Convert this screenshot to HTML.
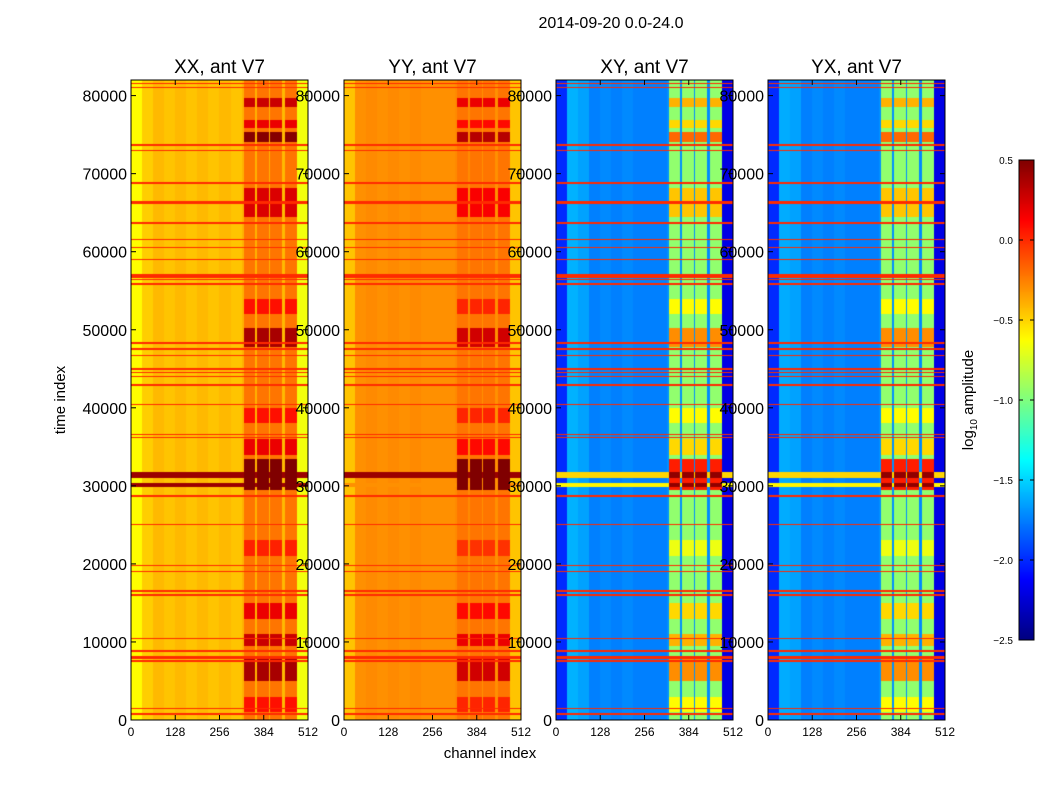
<!DOCTYPE html>
<html><head><meta charset="utf-8">
<style>
html,body{margin:0;padding:0;background:#fff;}
#wrap{position:relative;width:1050px;height:800px;overflow:hidden;font-family:"Liberation Sans",sans-serif;}
canvas,svg{position:absolute;left:0;top:0;}
</style></head>
<body>
<div id="wrap">
<canvas id="cv" width="1050" height="800"></canvas>
<svg id="sv" width="1050" height="800"></svg>
</div>
<script>
// ---- data ----
const panelTitles = ["XX, ant V7","YY, ant V7","XY, ant V7","YX, ant V7"];
const yTicks = [0,10000,20000,30000,40000,50000,60000,70000,80000];
const xTicks = [0,128,256,384,512];
const cbTicks = [0.5,0.0,-0.5,-1.0,-1.5,-2.0,-2.5];
// channel profile: 16 bins of 32 channels, log10 amplitude
const chanXX = [-0.62,-0.48,-0.42,-0.45,-0.42,-0.45,-0.42,-0.45,-0.42,-0.45,-0.4,-0.4,-0.4,-0.42,-0.5,-0.66];
const chanYY = [-0.45,-0.3,-0.28,-0.3,-0.28,-0.3,-0.28,-0.3,-0.3,-0.3,-0.28,-0.28,-0.3,-0.3,-0.35,-0.45];
const chanXY = [-2.0,-1.6,-1.65,-1.75,-1.72,-1.75,-1.72,-1.75,-1.75,-1.75,-1.7,-1.7,-1.7,-1.72,-1.85,-2.2];
const chanYX = [-2.0,-1.62,-1.65,-1.75,-1.72,-1.75,-1.72,-1.75,-1.75,-1.75,-1.7,-1.7,-1.7,-1.72,-1.85,-2.2];
// RFI columns (channels)
const rfiStart = [327,364,402,446];
const rfiEnd = [360,398,438,480];
const rfiBase = [-0.22,-0.22,-0.95,-0.95];
const rfiGain = [1.0,0.8,1.1,1.1];
// RFI bursts in time: start, end, strength
const burstT0 = [78500,75900,74000,64400,52000,47800,38000,34000,29500,21000,13000,9500,5000,1000];
const burstT1 = [79700,76900,75300,68100,54000,50200,40000,36000,33500,23000,15000,11000,8000,3000];
const burstAmp = [0.5,0.4,0.7,0.45,0.3,0.6,0.3,0.4,0.9,0.25,0.4,0.5,0.6,0.3];
// flagged rows (time) and their thickness (time units)
const flagT = [81600,81000,73700,73000,68800,66300,63700,61600,60500,59000,56900,56400,55900,48300,47500,46700,45000,44500,44000,42900,40400,36600,36200,28700,25000,19800,19000,16500,16000,10400,8800,8000,7600,1500,800];
const flagW = [150,150,200,150,150,500,300,150,150,150,600,150,300,200,200,200,200,200,200,200,200,200,200,200,120,150,150,250,200,150,300,300,300,200,200];
// broad band around 30000
const bandT0 = [31000,29900];
const bandT1 = [31800,30400];
const bandXX = [0.42,0.42];
const bandYY = [0.42,-0.3];
const bandXY = [-0.5,-0.6];
const bandYX = [-0.5,-0.6];

// ---- layout ----
const panelX = [131,344,556,768];
const PW = 177, PT = 80, PH = 640;
const TMAX = 82000, CMAX = 512, VMIN = -2.5, VMAX = 0.5;
const yPos = t => PT + PH - t / TMAX * PH;
const xPos = (p, c) => panelX[p] + c / CMAX * PW;

function jet(v){
  let x = (v - VMIN) / (VMAX - VMIN); x = Math.max(0, Math.min(1, x));
  const f = (a) => Math.max(0, Math.min(1, a));
  const r = f(1.5 - Math.abs(4 * x - 3));
  const g = f(1.5 - Math.abs(4 * x - 2));
  const b = f(1.5 - Math.abs(4 * x - 1));
  return [r * 255, g * 255, b * 255];
}
const chans = [chanXX, chanYY, chanXY, chanYX];
const bands = [bandXX, bandYY, bandXY, bandYX];
function value(p, ch, t){
  let v = chans[p][Math.min(15, Math.floor(ch / 32))];
  let inRfi = false;
  for (let k = 0; k < rfiStart.length; k++) if (ch >= rfiStart[k] && ch <= rfiEnd[k]) inRfi = true;
  if (inRfi) {
    v = rfiBase[p];
    for (let k = 0; k < burstT0.length; k++)
      if (t >= burstT0[k] && t <= burstT1[k]) v += burstAmp[k] * rfiGain[p];
  }
  for (let k = 0; k < bandT0.length; k++)
    if (t >= bandT0[k] && t <= bandT1[k]) v = inRfi ? Math.max(v, 0.45) : bands[p][k];
  for (let k = 0; k < flagT.length; k++)
    if (Math.abs(t - flagT[k]) <= flagW[k] / 2) v = 0.0;
  return v;
}
const cv = document.getElementById('cv');
const ctx = cv.getContext('2d');
ctx.fillStyle = '#fff'; ctx.fillRect(0, 0, 1050, 800);
for (let p = 0; p < 4; p++) {
  const img = ctx.createImageData(PW, PH);
  for (let px = 0; px < PW; px++) {
    const ch = (px + 0.5) / PW * CMAX;
    for (let py = 0; py < PH; py++) {
      const t = (PH - py - 0.5) / PH * TMAX;
      const c = jet(value(p, ch, t));
      const i = (py * PW + px) * 4;
      img.data[i] = c[0]; img.data[i+1] = c[1]; img.data[i+2] = c[2]; img.data[i+3] = 255;
    }
  }
  ctx.putImageData(img, panelX[p], PT);
}
// colorbar
const CBX = 1019, CBW = 15, CBT = 160, CBH = 480;
for (let y = 0; y < CBH; y++) {
  const v = VMAX - (y + 0.5) / CBH * (VMAX - VMIN);
  const c = jet(v);
  ctx.fillStyle = `rgb(${c[0]|0},${c[1]|0},${c[2]|0})`;
  ctx.fillRect(CBX, CBT + y, CBW, 1);
}

// ---- svg overlay ----
const NS = 'http://www.w3.org/2000/svg';
const sv = document.getElementById('sv');
function mk(tag, attrs, txt){
  const e = document.createElementNS(NS, tag);
  for (const k in attrs) e.setAttribute(k, attrs[k]);
  if (txt !== undefined) e.textContent = txt;
  sv.appendChild(e); return e;
}
let e;
e = mk('text', {x:611, y:28, 'font-size':16, 'text-anchor':'middle', fill:'#000'}, '2014-09-20 0.0-24.0');


for (let p = 0; p < 4; p++) {
  const x0 = panelX[p];
  e = mk('rect', {x:x0, y:PT, width:PW, height:PH, fill:'none', stroke:'#000', 'stroke-width':1});
  
  
  e = mk('text', {x:x0 + PW/2, y:73, 'font-size':19, 'text-anchor':'middle', fill:'#000'}, panelTitles[p]);
  
  
  yTicks.forEach(t => {
    const y = yPos(t);
    mk('line', {x1:x0, x2:x0+5, y1:y, y2:y, stroke:'#000'});
    mk('line', {x1:x0+PW-5, x2:x0+PW, y1:y, y2:y, stroke:'#000'});
    e = mk('text', {x:x0 - 4, y:y + 6, 'font-size':16, 'text-anchor':'end', fill:'#000'}, String(t));
    
    
  });
  xTicks.forEach(c => {
    const x = xPos(p, c);
    mk('line', {x1:x, x2:x, y1:PT+PH, y2:PT+PH-5, stroke:'#000'});
    mk('line', {x1:x, x2:x, y1:PT, y2:PT+5, stroke:'#000'});
    e = mk('text', {x:x, y:736, 'font-size':12, 'text-anchor':'middle', fill:'#000'}, String(c));
    
    
  });
}
e = mk('text', {x:490, y:758, 'font-size':15, 'text-anchor':'middle', fill:'#000'}, 'channel index');


e = mk('text', {x:0, y:0, 'font-size':15, 'text-anchor':'middle', fill:'#000', transform:'translate(65,400) rotate(-90)'}, 'time index');


e = mk('rect', {x:CBX, y:CBT, width:CBW, height:CBH, fill:'none', stroke:'#000'});


cbTicks.forEach(v => {
  const y = CBT + (VMAX - v) / (VMAX - VMIN) * CBH;
  mk('line', {x1:CBX, x2:CBX+4, y1:y, y2:y, stroke:'#000'});
  mk('line', {x1:CBX+CBW-4, x2:CBX+CBW, y1:y, y2:y, stroke:'#000'});
  e = mk('text', {x:1013, y:y + 4, 'font-size':10, 'text-anchor':'end', fill:'#000'}, (v < 0 ? '\u2212' + Math.abs(v).toFixed(1) : v.toFixed(1)));
  
  
});
e = mk('text', {x:0, y:0, 'font-size':15, 'text-anchor':'middle', fill:'#000', transform:'translate(973,400) rotate(-90)'});


const t1 = document.createElementNS(NS, 'tspan'); t1.textContent = 'log'; e.appendChild(t1);
const t2 = document.createElementNS(NS, 'tspan'); t2.textContent = '10'; t2.setAttribute('font-size', 10); t2.setAttribute('dy', 4); e.appendChild(t2);
const t3 = document.createElementNS(NS, 'tspan'); t3.textContent = ' amplitude'; t3.setAttribute('dy', -4); e.appendChild(t3);
</script>
</body></html>
